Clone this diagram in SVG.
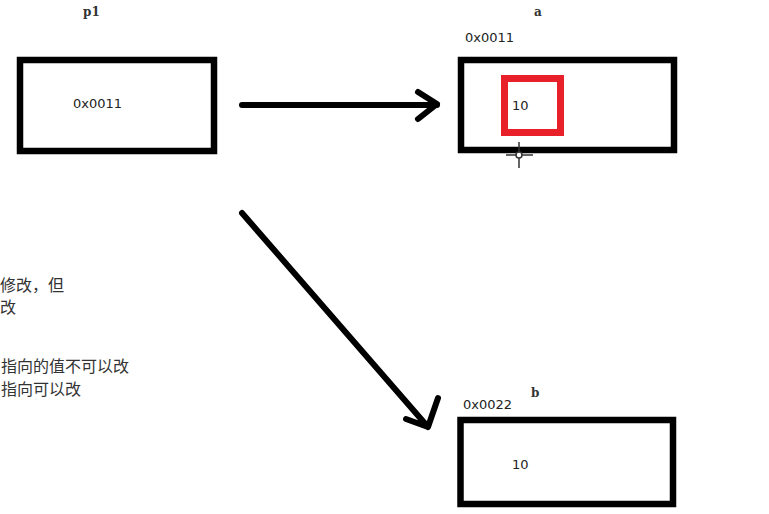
<svg xmlns="http://www.w3.org/2000/svg" width="769" height="514" viewBox="0 0 769 514">
<style>
.box{fill:#fff;stroke:#000;stroke-width:6.5}
.red{fill:none;stroke:#e8202a;stroke-width:7}
.lbl{font-family:"DejaVu Sans","Liberation Sans",sans-serif;font-size:13px;fill:#222}
.var{font-family:"DejaVu Serif","Liberation Serif",serif;font-size:12px;font-weight:bold;fill:#333}
.cn{font-family:"Noto Sans CJK SC","Noto Sans",sans-serif;font-size:16px;fill:#333}
.conn{fill:none;stroke:#000;stroke-width:6;stroke-linecap:round;stroke-linejoin:round}
</style>
<rect width="769" height="514" fill="#fff"/>
<g id="p1">
<text class="var" x="83" y="16">p1</text>
<rect class="box" x="20" y="60" width="194" height="91"/>
<text class="lbl" x="73" y="108">0x0011</text>
</g>
<g id="a">
<text class="var" x="534" y="16" font-size="9">a</text>
<text class="lbl" x="465" y="42">0x0011</text>
<rect class="box" x="461" y="60" width="213" height="90"/>
<rect class="red" x="504.5" y="78.5" width="56" height="54"/>
<text class="lbl" x="512" y="110">10</text>
</g>
<g id="b">
<text class="var" x="531" y="397">b</text>
<text class="lbl" x="463" y="409">0x0022</text>
<rect class="box" x="460.5" y="420" width="212.5" height="84"/>
<text class="lbl" x="512" y="469">10</text>
</g>
<g id="notes">
<text class="cn" x="0" y="291">修改，但</text>
<text class="cn" x="0" y="313">改</text>
<text class="cn" x="1" y="372">指向的值不可以改</text>
<text class="cn" x="1" y="395">指向可以改</text>
</g>
<g id="connectors">
<path class="conn" d="M242 105 L437 105 M418 92 L437 104 L418 119"/>
<path class="conn" d="M242 213 L428 427 M406 419 L428 427 L438 398"/>
</g>
<g id="cursor" stroke="#333" stroke-width="1.5" fill="none">
<path d="M519 142 V168 M506 155 H533"/>
<circle cx="519" cy="155" r="3" fill="#fff"/>
</g>
</svg>
